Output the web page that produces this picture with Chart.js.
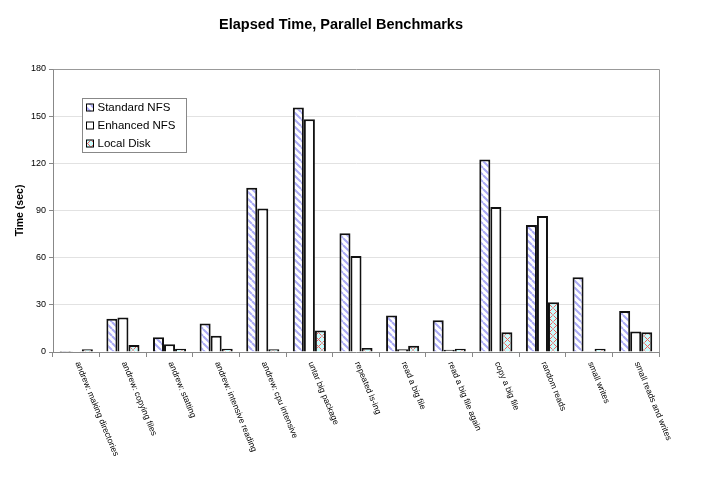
<!DOCTYPE html>
<html>
<head>
<meta charset="utf-8">
<script src="https://cdn.jsdelivr.net/npm/chart.js@4/dist/chart.umd.min.js"></script>
<style>
  html, body { margin: 0; padding: 0; background: #fff; }
  #wrap { width: 707px; height: 477px; position: relative; }
</style>
</head>
<body>
<div id="wrap"><canvas id="c" width="707" height="477"></canvas></div>
<script>
const chartTitle = "Elapsed Time, Parallel Benchmarks";
const yAxisTitle = "Time (sec)";
const categories = [
  "andrew: making directories",
  "andrew: copying files",
  "andrew: statting",
  "andrew: intensive reading",
  "andrew: cpu intensive",
  "untar big package",
  "repeated ls-ing",
  "read a big file",
  "read a big file again",
  "copy a big file",
  "random reads",
  "small writes",
  "small reads and writes"
];
const seriesNames = ["Standard NFS", "Enhanced NFS", "Local Disk"];
const standardNFS = [0.6, 21.1, 9.4, 18.1, 104.5, 155.5, 75.5, 23.2, 20.2, 122.5, 80.8, 47.5, 26.0];
const enhancedNFS = [0.5, 21.9, 4.9, 10.4, 91.3, 148.0, 61.0, 1.7, 1.4, 92.3, 86.5, 0.4, 13.0];
const localDisk   = [1.7, 4.5, 2.1, 2.1, 1.7, 13.6, 2.6, 4.0, 2.1, 12.6, 31.7, 2.1, 12.6];
const yTicks = [0, 30, 60, 90, 120, 150, 180];

function stripePattern() {
  const s = 7;
  const cv = document.createElement('canvas');
  cv.width = s; cv.height = s;
  const g = cv.getContext('2d');
  g.fillStyle = '#ffffff';
  g.fillRect(0, 0, s, s);
  g.strokeStyle = '#aaaaf6';
  g.lineWidth = 2;
  g.beginPath();
  for (const k of [-s, 0, s]) {
    g.moveTo(k, 0);
    g.lineTo(k + s, s);
  }
  g.stroke();
  return g.createPattern(cv, 'repeat');
}
function crossPattern() {
  const s = 7;
  const cv = document.createElement('canvas');
  cv.width = s; cv.height = s;
  const g = cv.getContext('2d');
  g.fillStyle = '#ccfcfc';
  g.fillRect(0, 0, s, s);
  g.strokeStyle = '#f06060';
  g.lineWidth = 1;
  g.beginPath();
  g.moveTo(0.5, 0.5); g.lineTo(s - 0.5, s - 0.5);
  g.moveTo(s - 0.5, 0.5); g.lineTo(0.5, s - 0.5);
  g.stroke();
  return g.createPattern(cv, 'repeat');
}
const fills = [stripePattern(), '#ffffff', crossPattern()];
const seriesData = [standardNFS, enhancedNFS, localDisk];

const FONT = "'Liberation Sans', Arial, Helvetica, sans-serif";

const decorPlugin = {
  id: 'decor',
  afterDraw(chart) {
    const ctx = chart.ctx;
    const a = chart.chartArea;
    const xs = chart.scales.x;
    ctx.save();
    // plot border (top/right)
    ctx.strokeStyle = '#999';
    ctx.lineWidth = 1;
    ctx.beginPath();
    ctx.moveTo(Math.round(a.left) + 0.5, Math.round(a.top) + 0.5);
    ctx.lineTo(Math.round(a.right) + 0.5, Math.round(a.top) + 0.5);
    ctx.lineTo(Math.round(a.right) + 0.5, Math.round(a.bottom) + 0.5);
    ctx.stroke();

    // title
    ctx.fillStyle = '#000';
    ctx.font = "bold 14.5px " + FONT;
    ctx.textAlign = 'center';
    ctx.textBaseline = 'middle';
    ctx.fillText(chartTitle, 341, 25);

    // rotated category labels
    ctx.font = "8.5px " + FONT;
    ctx.textAlign = 'left';
    ctx.textBaseline = 'middle';
    categories.forEach((lab, i) => {
      const x = xs.getPixelForValue(i);
      ctx.save();
      ctx.translate(x + 1, a.bottom + 10);
      ctx.rotate(67.5 * Math.PI / 180);
      ctx.fillText(lab, 0, 0);
      ctx.restore();
    });

    // legend
    const bx = 82.5, by = 98.5, bw = 104, bh = 54;
    ctx.fillStyle = '#fff';
    ctx.fillRect(bx, by, bw, bh);
    ctx.strokeStyle = '#888';
    ctx.lineWidth = 1;
    ctx.strokeRect(bx, by, bw, bh);
    ctx.font = "11.5px " + FONT;
    ctx.textBaseline = 'middle';
    chart.data.datasets.forEach((ds, i) => {
      const cy = 107.5 + i * 18;
      ctx.fillStyle = ds.backgroundColor;
      ctx.fillRect(86, cy - 4, 8, 8);
      ctx.strokeStyle = '#000';
      ctx.lineWidth = 1;
      ctx.strokeRect(86.5, cy - 3.5, 7, 7);
      ctx.fillStyle = '#000';
      ctx.fillText(ds.label, 97.5, cy + 0.5);
    });
    ctx.restore();
  }
};

new Chart(document.getElementById('c'), {
  type: 'bar',
  data: {
    labels: categories,
    datasets: seriesNames.map((name, i) => ({
      label: name,
      data: seriesData[i],
      backgroundColor: fills[i],
      borderColor: '#111',
      borderWidth: 2,
      borderSkipped: 'bottom',
      categoryPercentage: 0.71,
      barPercentage: 1.0
    }))
  },
  options: {
    responsive: false,
    animation: false,
    events: [],
    layout: { padding: { left: 0, right: 48, top: 69, bottom: 0 } },
    plugins: {
      legend: { display: false },
      title: { display: false },
      tooltip: { enabled: false }
    },
    scales: {
      x: {
        type: 'category',
        offset: true,
        afterFit(scale) { scale.height = 125; },
        grid: {
          offset: true,
          drawOnChartArea: false,
          drawTicks: true,
          tickLength: 5,
          color: '#888'
        },
        border: { color: '#888', width: 1 },
        ticks: { display: false }
      },
      y: {
        min: 0,
        max: 180,
        afterFit(scale) { scale.width = 53; },
        afterBuildTicks(scale) { scale.ticks = yTicks.map(v => ({ value: v })); },
        grid: {
          color: '#e2e2e2',
          tickLength: 4,
          tickColor: '#888'
        },
        border: { color: '#888', width: 1 },
        ticks: {
          padding: 3,
          color: '#000',
          font: { family: FONT, size: 9 }
        },
        title: {
          display: true,
          text: yAxisTitle,
          color: '#000',
          font: { family: FONT, size: 10.5, weight: 'bold' },
          padding: { top: 14, bottom: 0 }
        }
      }
    }
  },
  plugins: [decorPlugin]
});
</script>
</body>
</html>
